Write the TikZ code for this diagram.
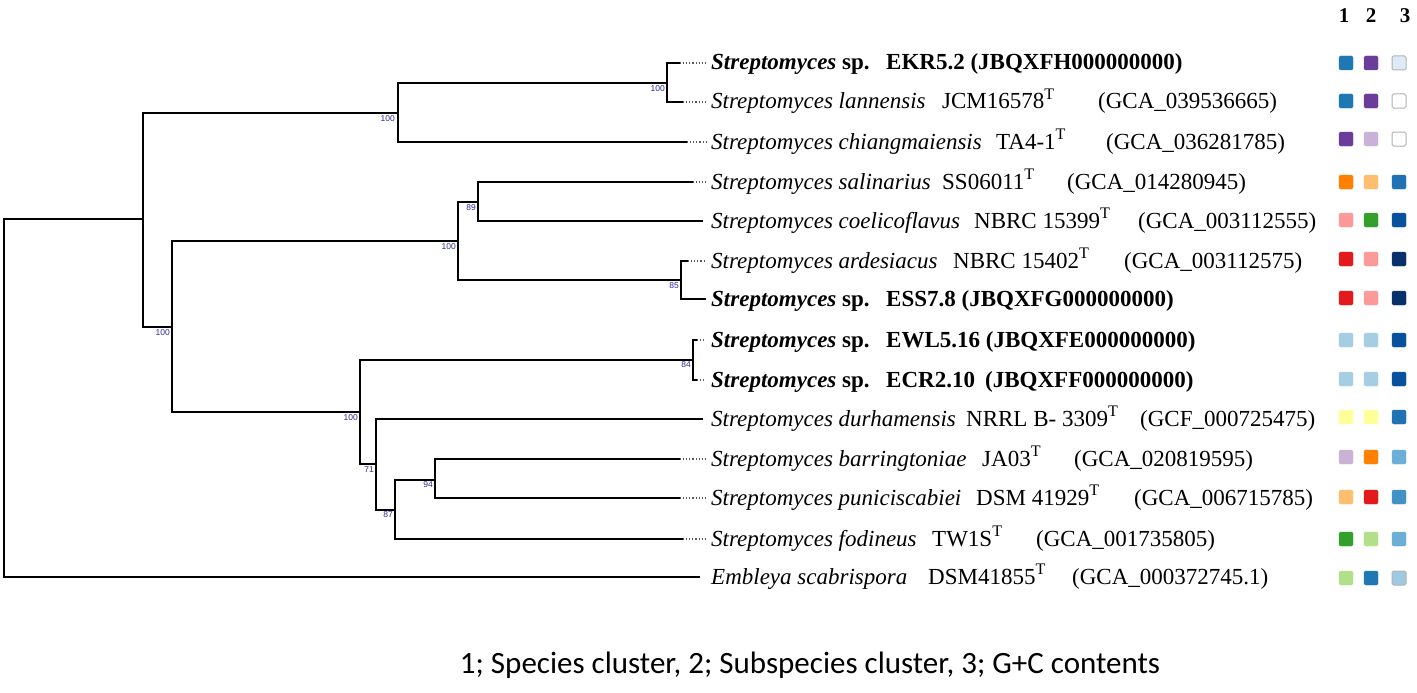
\documentclass[tikz,border=0pt]{standalone}
\usepackage{fontspec}
\setmainfont{Liberation Serif}
\newfontfamily\calibfont{Carlito}
\newfontfamily\bsfont{Liberation Sans}
\newcommand\supT{\textsuperscript{T}}
\definecolor{cBlue}{HTML}{1F78B4}
\definecolor{cPurple}{HTML}{6A3D9A}
\definecolor{cLPurple}{HTML}{CAB2D6}
\definecolor{cOrange}{HTML}{FF7F00}
\definecolor{cLOrange}{HTML}{FDBF6F}
\definecolor{cPink}{HTML}{FB9A99}
\definecolor{cGreen}{HTML}{33A02C}
\definecolor{cLGreen}{HTML}{B2DF8A}
\definecolor{cRed}{HTML}{E31A1C}
\definecolor{cLBlue}{HTML}{A6CEE3}
\definecolor{cYellow}{HTML}{FFFF99}
\definecolor{gA}{HTML}{DEEBF7}
\definecolor{gB}{HTML}{9ECAE1}
\definecolor{gC}{HTML}{6BAED6}
\definecolor{gD}{HTML}{4292C6}
\definecolor{gE}{HTML}{2171B5}
\definecolor{gF}{HTML}{08519C}
\definecolor{gG}{HTML}{08306B}
\definecolor{bsblue}{HTML}{2B2B9B}
\begin{document}
\begin{tikzpicture}[x=1pt,y=-1pt,
  br/.style={line width=2.4pt, line join=miter, line cap=rect},
  leader/.style={dotted, line width=1.1pt, black!65},
  bs/.style={font=\bsfont\fontsize{8.5}{8.5}\selectfont, text=bsblue, inner sep=0pt, anchor=north east},
  lbl/.style={font=\fontsize{23}{23}\selectfont, inner sep=0pt, anchor=base west},
  sq/.style={minimum size=14pt, inner sep=0pt, rounded corners=1.5pt, draw=#1, fill=#1},
  sqo/.style={minimum size=14pt, inner sep=0pt, rounded corners=1.5pt, draw=black!30, line width=1pt, fill=#1},
  hd/.style={font=\bfseries\fontsize{21}{21}\selectfont, inner sep=0pt}]
\useasboundingbox (0,0) rectangle (1417,693);
\fill[white] (0,0) rectangle (1417,693);
% internal nodes
\coordinate (R) at (4,398);
\coordinate (N1) at (143,219);
\coordinate (U) at (398,113);
\coordinate (K) at (667,83);
\coordinate (A) at (172,327);
\coordinate (B) at (458,241);
\coordinate (D) at (478,202);
\coordinate (E) at (681,280);
\coordinate (C) at (360,412);
\coordinate (W) at (693,360);
\coordinate (F) at (376,464);
\coordinate (G) at (395,510);
\coordinate (H) at (435,480);
% leaf branch ends
\coordinate (e1) at (680,63);
\coordinate (e2) at (683,102);
\coordinate (e3) at (687,142);
\coordinate (e4) at (693,182);
\coordinate (e5) at (702,221);
\coordinate (e6) at (688,261);
\coordinate (e7) at (705,299);
\coordinate (e8) at (697,340);
\coordinate (e9) at (697,380);
\coordinate (e10) at (702,419);
\coordinate (e11) at (680,459);
\coordinate (e12) at (680,498);
\coordinate (e13) at (683,539);
\coordinate (e14) at (699,577);
% leader ends
\foreach \i/\y in {1/63,2/102,3/142,4/182,5/221,6/261,7/299,8/340,9/380,10/419,11/459,12/498,13/539,14/577}
  \coordinate (t\i) at (706,\y);
% tree
\draw[br] (R) |- (N1);
\draw[br] (R) |- (e14);
\draw[br] (N1) |- (U);
\draw[br] (N1) |- (A);
\draw[br] (U) |- (K);
\draw[br] (U) |- (e3);
\draw[br] (K) |- (e1);
\draw[br] (K) |- (e2);
\draw[br] (A) |- (B);
\draw[br] (A) |- (C);
\draw[br] (B) |- (D);
\draw[br] (B) |- (E);
\draw[br] (D) |- (e4);
\draw[br] (D) |- (e5);
\draw[br] (E) |- (e6);
\draw[br] (E) |- (e7);
\draw[br] (C) |- (W);
\draw[br] (C) |- (F);
\draw[br] (W) |- (e8);
\draw[br] (W) |- (e9);
\draw[br] (F) |- (e10);
\draw[br] (F) |- (G);
\draw[br] (G) |- (H);
\draw[br] (G) |- (e13);
\draw[br] (H) |- (e11);
\draw[br] (H) |- (e12);
% leaders
\foreach \i in {1,2,3,4,6,8,9,11,12,13}
  \draw[leader] (e\i) -- (t\i);
% bootstrap values
\node[bs] (bK) at (665,85) {100};
\node[bs] (bU) at (395,115) {100};
\node[bs] (bD) at (476,204) {89};
\node[bs] (bB) at (456,243) {100};
\node[bs] (bA) at (170,329) {100};
\node[bs] (bE) at (679,282) {85};
\node[bs] (bW) at (691,361) {84};
\node[bs] (bC) at (358,414) {100};
\node[bs] (bF) at (374,466) {71};
\node[bs] (bG) at (393,511) {87};
\node[bs] (bH) at (433,481) {94};
% labels
\node[lbl] (n1) at (711,70) {\textbf{\textit{Streptomyces} sp.}};
\node[lbl] (s1) at (886,70) {\textbf{EKR5.2 (JBQXFH000000000)}};
\node[lbl] (n2) at (711,109) {\textit{Streptomyces lannensis}};
\node[lbl] (s2) at (942,109) {JCM16578\supT};
\node[lbl] (a2) at (1098,109) {(GCA\_039536665)};
\node[lbl] (n3) at (711,149) {\textit{Streptomyces chiangmaiensis}};
\node[lbl] (s3) at (996,149) {TA4-1\supT};
\node[lbl] (a3) at (1106,149) {(GCA\_036281785)};
\node[lbl] (n4) at (711,189) {\textit{Streptomyces salinarius}};
\node[lbl] (s4) at (942,189) {SS06011\supT};
\node[lbl] (a4) at (1067,189) {(GCA\_014280945)};
\node[lbl] (n5) at (711,228) {\textit{Streptomyces coelicoflavus}};
\node[lbl] (s5) at (974,228) {NBRC 15399\supT};
\node[lbl] (a5) at (1138,228) {(GCA\_003112555)};
\node[lbl] (n6) at (711,268) {\textit{Streptomyces ardesiacus}};
\node[lbl] (s6) at (953,268) {NBRC 15402\supT};
\node[lbl] (a6) at (1124,268) {(GCA\_003112575)};
\node[lbl] (n7) at (711,306) {\textbf{\textit{Streptomyces} sp.}};
\node[lbl] (s7) at (886,306) {\textbf{ESS7.8 (JBQXFG000000000)}};
\node[lbl] (n8) at (711,347) {\textbf{\textit{Streptomyces} sp.}};
\node[lbl] (s8) at (886,347) {\textbf{EWL5.16 (JBQXFE000000000)}};
\node[lbl] (n9) at (711,387) {\textbf{\textit{Streptomyces} sp.}};
\node[lbl] (s9) at (886,387) {\textbf{ECR2.10}};
\node[lbl] (a9) at (985,387) {\textbf{(JBQXFF000000000)}};
\node[lbl] (n10) at (711,426) {\textit{Streptomyces durhamensis}};
\node[lbl] (s10) at (966,426) {NRRL B- 3309\supT};
\node[lbl] (a10) at (1140,426) {(GCF\_000725475)};
\node[lbl] (n11) at (711,466) {\textit{Streptomyces barringtoniae}};
\node[lbl] (s11) at (982,466) {JA03\supT};
\node[lbl] (a11) at (1074,466) {(GCA\_020819595)};
\node[lbl] (n12) at (711,505) {\textit{Streptomyces puniciscabiei}};
\node[lbl] (s12) at (976,505) {DSM 41929\supT};
\node[lbl] (a12) at (1134,505) {(GCA\_006715785)};
\node[lbl] (n13) at (711,546) {\textit{Streptomyces fodineus}};
\node[lbl] (s13) at (932,546) {TW1S\supT};
\node[lbl] (a13) at (1036,546) {(GCA\_001735805)};
\node[lbl] (n14) at (711,584) {\textit{Embleya scabrispora}};
\node[lbl] (s14) at (928,584) {DSM41855\supT};
\node[lbl] (a14) at (1072,584) {(GCA\_000372745.1)};
% header
\node[hd] (h1) at (1344,16) {1};
\node[hd] (h2) at (1371,16) {2};
\node[hd] (h3) at (1405,16) {3};
% squares
\node[sq=cBlue] (q1a) at (1346,63) {};
\node[sq=cPurple] (q1b) at (1371,63) {};
\node[sqo=gA] (q1c) at (1399,63) {};
\node[sq=cBlue] (q2a) at (1346,101) {};
\node[sq=cPurple] (q2b) at (1371,101) {};
\node[sqo=white] (q2c) at (1399,101) {};
\node[sq=cPurple] (q3a) at (1346,139) {};
\node[sq=cLPurple] (q3b) at (1371,139) {};
\node[sqo=white] (q3c) at (1399,139) {};
\node[sq=cOrange] (q4a) at (1346,182) {};
\node[sq=cLOrange] (q4b) at (1371,182) {};
\node[sq=gE] (q4c) at (1399,182) {};
\node[sq=cPink] (q5a) at (1346,220) {};
\node[sq=cGreen] (q5b) at (1371,220) {};
\node[sq=gF] (q5c) at (1399,220) {};
\node[sq=cRed] (q6a) at (1346,259) {};
\node[sq=cPink] (q6b) at (1371,259) {};
\node[sq=gG] (q6c) at (1399,259) {};
\node[sq=cRed] (q7a) at (1346,298) {};
\node[sq=cPink] (q7b) at (1371,298) {};
\node[sq=gG] (q7c) at (1399,298) {};
\node[sq=cLBlue] (q8a) at (1346,340) {};
\node[sq=cLBlue] (q8b) at (1371,340) {};
\node[sq=gF] (q8c) at (1399,340) {};
\node[sq=cLBlue] (q9a) at (1346,379) {};
\node[sq=cLBlue] (q9b) at (1371,379) {};
\node[sq=gF] (q9c) at (1399,379) {};
\node[sq=cYellow] (q10a) at (1346,417) {};
\node[sq=cYellow] (q10b) at (1371,417) {};
\node[sq=gE] (q10c) at (1399,417) {};
\node[sq=cLPurple] (q11a) at (1346,457) {};
\node[sq=cOrange] (q11b) at (1371,457) {};
\node[sq=gC] (q11c) at (1399,457) {};
\node[sq=cLOrange] (q12a) at (1346,497) {};
\node[sq=cRed] (q12b) at (1371,497) {};
\node[sq=gD] (q12c) at (1399,497) {};
\node[sq=cGreen] (q13a) at (1346,539) {};
\node[sq=cLGreen] (q13b) at (1371,539) {};
\node[sq=gC] (q13c) at (1399,539) {};
\node[sq=cLGreen] (q14a) at (1346,578) {};
\node[sq=cBlue] (q14b) at (1371,578) {};
\node[sqo=gB] (q14c) at (1399,578) {};
% caption
\node[font=\calibfont\fontsize{31}{31}\selectfont, inner sep=0pt] (cap) at (810,665) {1; Species cluster, 2; Subspecies cluster, 3; G+C contents};
\end{tikzpicture}
\end{document}
